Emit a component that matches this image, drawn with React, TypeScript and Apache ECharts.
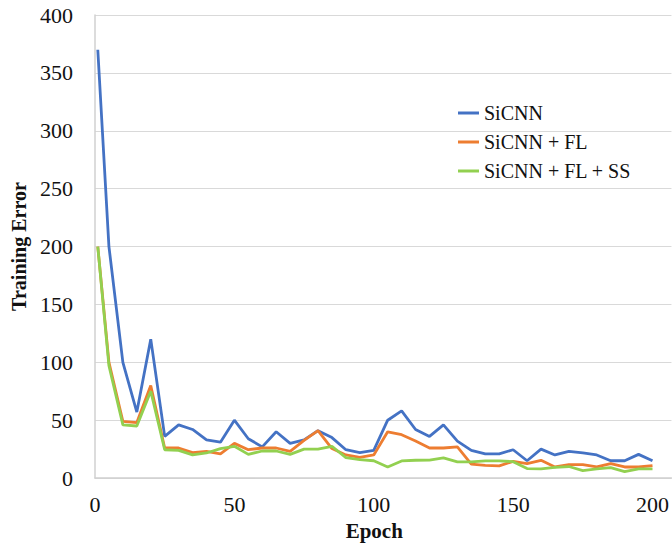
import React, { useEffect, useRef } from "react";
import * as echarts from "echarts";

const epochs = [1, 5, 10, 15, 20, 25, 30, 35, 40, 45, 50, 55, 60, 65, 70, 75, 80, 85, 90, 95, 100, 105, 110, 115, 120, 125, 130, 135, 140, 145, 150, 155, 160, 165, 170, 175, 180, 185, 190, 195, 200];

const sicnn = [370, 200, 100, 57, 120, 36, 46, 42, 33, 31, 50, 34, 27, 40, 30, 33, 41, 35, 24.5, 22, 24, 50, 58, 42, 36, 46, 32, 24, 21, 21, 24.5, 15, 25, 20, 23, 21.7, 20, 15, 15, 20.5, 15];
const sicnnFL = [200, 100, 49, 48, 80, 26, 26, 22, 23, 21, 30, 24.5, 26, 26, 23, 32.5, 41, 25.5, 20, 18, 20, 40, 37.5, 32, 26, 26, 27, 12, 11, 10.5, 14.5, 12.5, 15.4, 9.6, 11.6, 11.6, 9.6, 12.5, 9.6, 9.6, 10.8];
const sicnnFLSS = [200, 97, 46, 45, 75, 24.5, 24, 20, 21.7, 25.5, 27.5, 20.5, 23.4, 23.4, 20.5, 25, 25, 27.5, 17.7, 16, 15, 9.6, 14.8, 15.4, 15.6, 17.4, 14, 14, 14.8, 14.8, 14.2, 8.2, 8, 9.2, 10, 6.5, 8, 9, 5.6, 8, 8];

const seriesNames = ["SiCNN", "SiCNN + FL", "SiCNN + FL + SS"];
const seriesColors = ["#4472C4", "#ED7D31", "#92D050"];
const seriesValues = [sicnn, sicnnFL, sicnnFLSS];

const xTicks = [0, 50, 100, 150, 200];
const yMin = 0;
const yMax = 400;
const yStep = 50;

const FONT = "'Liberation Serif', 'Times New Roman', serif";

export default function App() {
  const ref = useRef<HTMLDivElement>(null);
  useEffect(() => {
    if (!ref.current) return;
    const chart = echarts.init(ref.current, null, { renderer: "svg" });
    const option = {
      animation: false,
      backgroundColor: "#ffffff",
      grid: { left: 95, right: 0, top: 15, bottom: 67, containLabel: false },
      legend: {
        orient: "vertical",
        left: 453,
        top: 97,
        itemWidth: 21,
        itemHeight: 3,
        itemGap: 7,
        icon: "rect",
        data: seriesNames,
        textStyle: { fontFamily: FONT, fontSize: 20, color: "#111", lineHeight: 22 },
      },
      xAxis: {
        type: "value",
        min: 0,
        max: 206.8,
        interval: 50,
        name: "Epoch",
        nameLocation: "middle",
        nameGap: 40,
        nameTextStyle: { fontFamily: FONT, fontSize: 21, fontWeight: "bold", color: "#111", padding: [0, 18, 0, 0] },
        axisLine: { show: true, lineStyle: { color: "#D0D0D0", width: 1.5 } },
        axisTick: { show: false },
        splitLine: { show: false },
        axisLabel: {
          margin: 15,
          fontFamily: FONT,
          fontSize: 22,
          color: "#111",
          showMaxLabel: false,
          formatter: (v: number) => (xTicks.indexOf(v) >= 0 ? String(v) : ""),
        },
      },
      yAxis: {
        type: "value",
        min: yMin,
        max: yMax,
        interval: yStep,
        name: "Training Error",
        nameLocation: "middle",
        nameGap: 63,
        nameTextStyle: { fontFamily: FONT, fontSize: 20, fontWeight: "bold", color: "#111" },
        axisLine: { show: true, lineStyle: { color: "#D0D0D0", width: 1.5 } },
        axisTick: { show: false },
        splitLine: { show: true, lineStyle: { color: "#D9D9D9", width: 1.2 } },
        axisLabel: { margin: 22, fontFamily: FONT, fontSize: 22, color: "#111" },
      },
      series: seriesNames.map((name, i) => ({
        name,
        type: "line",
        symbol: "none",
        color: seriesColors[i],
        lineStyle: { color: seriesColors[i], width: 2.8 },
        data: epochs.map((e, j) => [e, seriesValues[i][j]]),
      })),
    };
    chart.setOption(option as any);
    return () => chart.dispose();
  }, []);
  return (
    <div
      ref={ref}
      style={{ position: "fixed", left: 0, top: 0, width: 672, height: 546, background: "#fff" }}
    />
  );
}
